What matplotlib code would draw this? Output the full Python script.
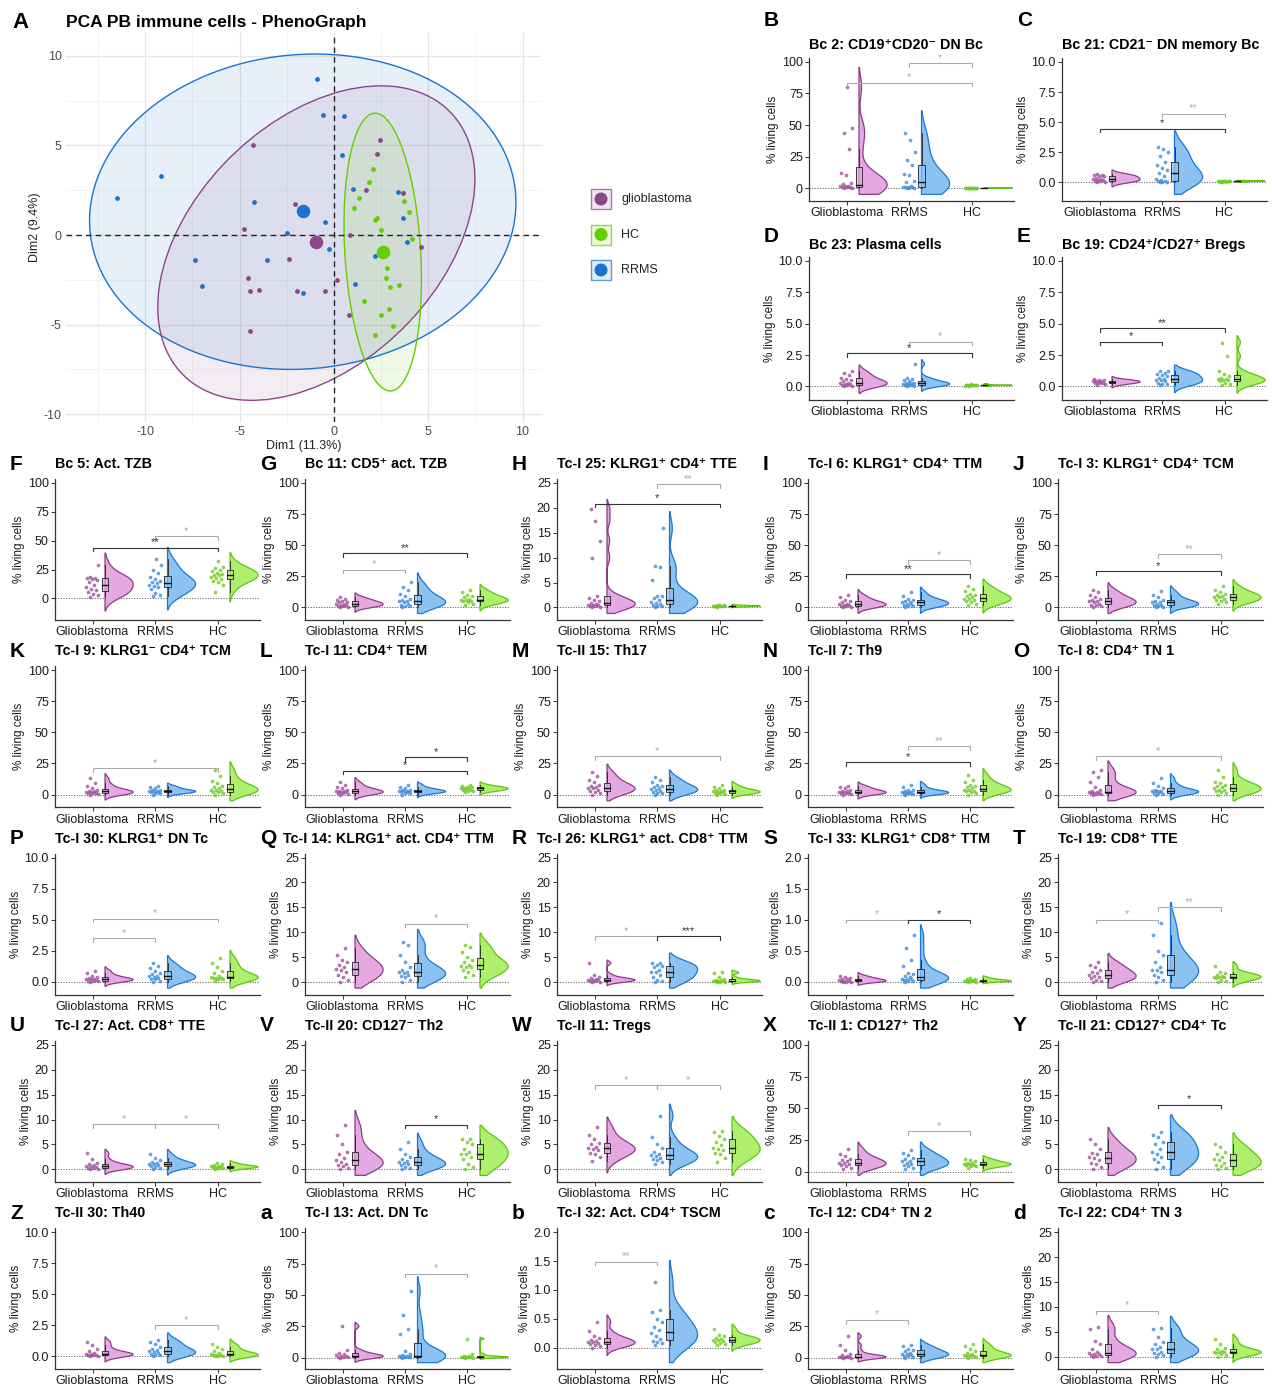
import numpy as np
import matplotlib
matplotlib.use("Agg")
import matplotlib.pyplot as plt
from matplotlib.patches import Ellipse, Rectangle, Circle

plt.rcParams['font.family'] = ['Liberation Sans', 'DejaVu Sans']
plt.rcParams['axes.unicode_minus'] = False

# ---------------- DATA ----------------
groups = ["Glioblastoma", "RRMS", "HC"]
legend_labels = ["glioblastoma", "HC", "RRMS"]

# PCA scores
gbm_pc1 = [-4.31, 2.44, 2.31, 1.68, 3.67, -2.04, -4.77, 0.85, 4.64, -2.38, -4.56, -4.47, -3.95, -1.95, -0.45, 0.19, 0.81, -4.47]
gbm_pc2 = [5.04, 5.30, 4.54, 2.53, 2.34, 1.73, 0.32, 0.0, -0.67, -1.34, -2.40, -3.12, -3.07, -3.10, -3.12, -2.53, -4.48, -5.37]
rrms_pc1 = [-0.91, -0.57, 0.53, 0.45, -9.16, -11.47, -4.24, 1.02, 3.39, -0.49, 3.67, -2.50, -0.26, 3.86, -7.34, -3.52, 2.19, -7.0, 1.12, -1.65]
rrms_pc2 = [8.68, 6.67, 6.64, 4.46, 3.31, 2.04, 1.82, 2.58, 2.42, 0.72, 0.95, 0.09, -0.76, -0.37, -1.41, -1.41, -1.15, -2.86, -2.75, -3.25]
hc_pc1 = [2.10, 1.87, 1.31, 3.73, 3.97, 1.08, 2.16, 2.31, 2.52, 4.12, 2.82, 2.76, 2.97, 3.44, 1.59, 2.91, 2.52, 3.14, 2.18]
hc_pc2 = [3.68, 2.94, 2.08, 1.88, 1.26, 1.51, 0.86, 0.93, 0.30, -0.22, -1.84, -2.38, -2.92, -2.79, -3.70, -4.11, -4.46, -5.06, -5.56]
# centroids (gbm, rrms, hc)
cent_pc1 = [-0.93, -1.65, 2.59]
cent_pc2 = [-0.41, 1.32, -0.95]
# confidence ellipses: center x, center y, semi-major, semi-minor, angle (deg)
ell_gbm = [-0.93, -0.45, 10.2, 6.6, 48.0]
ell_rrms = [-1.65, 1.30, 11.33, 8.76, 6.4]
ell_hc = [2.59, -0.95, 7.76, 2.01, 93.2]

# ---- small panels: titles, y scale, violin floor, values, significance ----
B_title = "Bc 2: CD19\u207aCD20\u207b DN Bc"; B_ytop = 100; B_vlo = -5
B_gbm = [0.2, 0.3, 0.5, 0.8, 1, 1.5, 2, 2, 3, 4, 10, 12, 31, 44, 48, 80]
B_rrms = [0, 0, 0.2, 0.5, 0.5, 1, 1, 2, 5, 6, 10, 11, 18, 22, 29, 38, 44]
B_hc = [0.1, 0.1, 0.2, 0.1, 0.3, 0.2, 0.1, 0.2, 0.1, 0.3, 0.2, 0.1, 0.1, 0.2]
B_sig = [(1, 2, 99, "*", "g"), (0, 2, 83.5, "*", "g")]

C_title = "Bc 21: CD21\u207b DN memory Bc"; C_ytop = 10; C_vlo = -1
C_gbm = [0, 0, 0.1, 0.1, 0.2, 0.2, 0.3, 0.3, 0.4, 0.5, 0.5, 0.6, 0.6, 0.7]
C_rrms = [0, 0, 0, 0.1, 0.1, 0.2, 0.3, 0.5, 0.8, 1, 1.2, 1.4, 1.7, 2.2, 2.5, 2.8, 2.9]
C_hc = [0.05, 0.1, 0.1, 0.05, 0.1, 0.15, 0.1, 0.05, 0.1, 0.1, 0.15, 0.1]
C_sig = [(1, 2, 5.7, "**", "g"), (0, 2, 4.47, "*", "k")]

D_title = "Bc 23: Plasma cells"; D_ytop = 10; D_vlo = -0.55
D_gbm = [0, 0.05, 0.1, 0.1, 0.2, 0.2, 0.3, 0.3, 0.4, 0.5, 0.6, 0.7, 0.9, 1.1, 1.2]
D_rrms = [0, 0.05, 0.1, 0.1, 0.15, 0.2, 0.2, 0.25, 0.3, 0.3, 0.4, 0.5, 0.6, 0.7, 1.8]
D_hc = [0.05, 0.1, 0.1, 0.1, 0.15, 0.1, 0.05, 0.1, 0.15, 0.1, 0.2, 0.1]
D_sig = [(1, 2, 3.56, "*", "g"), (0, 2, 2.63, "*", "k")]

E_title = "Bc 19: CD24\u207a/CD27\u207a Bregs"; E_ytop = 10; E_vlo = -0.55
E_gbm = [0.1, 0.2, 0.25, 0.3, 0.3, 0.35, 0.4, 0.4, 0.45, 0.5, 0.5, 0.6]
E_rrms = [0.1, 0.2, 0.2, 0.3, 0.4, 0.5, 0.5, 0.6, 0.7, 0.8, 0.9, 1.0, 1.1, 1.2, 1.2]
E_hc = [0.1, 0.2, 0.3, 0.4, 0.5, 0.5, 0.6, 0.6, 0.7, 0.8, 1.0, 1.2, 2.4, 3.5]
E_sig = [(0, 1, 3.56, "*", "k"), (0, 2, 4.65, "**", "k")]

F_title = "Bc 5: Act. TZB"; F_ytop = 100; F_vlo = -13
F_gbm = [1, 3, 4, 6, 7, 8, 10, 12, 14, 16, 17, 18, 18, 19, 29]
F_rrms = [2, 3, 5, 8, 10, 11, 12, 13, 14, 15, 17, 19, 22, 25, 29, 34]
F_hc = [6, 12, 14, 15, 17, 18, 19, 20, 20, 21, 22, 24, 25, 26, 27, 32]
F_sig = [(1, 2, 54, "*", "g"), (0, 2, 44, "**", "k")]

G_title = "Bc 11: CD5\u207a act. TZB"; G_ytop = 100; G_vlo = -5
G_gbm = [0, 0.5, 1, 1, 2, 2, 3, 3, 4, 4, 5, 6, 7, 8]
G_rrms = [0, 1, 1, 2, 3, 4, 5, 5, 6, 7, 9, 11, 14, 16, 20]
G_hc = [2, 3, 4, 5, 5, 6, 6, 7, 8, 9, 10, 12, 14]
G_sig = [(0, 1, 30, "*", "g"), (0, 2, 43.5, "**", "k")]

H_title = "Tc-I 25: KLRG1\u207a CD4\u207a TTE"; H_ytop = 25; H_vlo = -1.2
H_gbm = [0, 0.1, 0.2, 0.3, 0.4, 0.5, 0.6, 0.8, 1, 1.3, 1.6, 2, 2.4, 10, 13.4, 17.4, 19.7]
H_rrms = [0, 0.2, 0.3, 0.5, 0.8, 1, 1.2, 1.5, 2, 2.3, 2.4, 5.5, 8.2, 8.4, 15.9]
H_hc = [0.1, 0.2, 0.2, 0.3, 0.3, 0.4, 0.3, 0.2, 0.3, 0.4, 0.5, 0.3]
H_sig = [(1, 2, 24.7, "**", "g"), (0, 2, 20.8, "*", "k")]

I_title = "Tc-I 6: KLRG1\u207a CD4\u207a TTM"; I_ytop = 100; I_vlo = -5
I_gbm = [0, 0.5, 1, 1, 2, 2, 3, 3, 4, 5, 6, 8, 10]
I_rrms = [0, 1, 1, 2, 3, 3, 4, 4, 5, 6, 7, 9, 12]
I_hc = [2, 3, 4, 5, 6, 7, 7, 8, 9, 10, 11, 13, 15, 17]
I_sig = [(1, 2, 38, "*", "g"), (0, 2, 26.6, "**", "k")]

J_title = "Tc-I 3: KLRG1\u207a CD4\u207a TCM"; J_ytop = 100; J_vlo = -5
J_gbm = [0, 1, 2, 2, 3, 4, 5, 5, 6, 7, 8, 10, 12, 14]
J_rrms = [0, 0.5, 1, 2, 2, 3, 4, 4, 5, 6, 8, 10, 13]
J_hc = [3, 4, 5, 6, 7, 8, 8, 9, 10, 11, 12, 14, 17]
J_sig = [(1, 2, 42.7, "**", "g"), (0, 2, 29, "*", "k")]

K_title = "Tc-I 9: KLRG1\u207b CD4\u207a TCM"; K_ytop = 100; K_vlo = -5
K_gbm = [0, 0.5, 1, 1, 1.5, 2, 2, 3, 3, 4, 5, 7, 9, 13]
K_rrms = [0, 1, 1.5, 2, 2, 2.5, 3, 3, 3.5, 4, 5, 6, 7]
K_hc = [0, 1, 2, 2, 3, 4, 4, 5, 6, 7, 9, 11, 15, 20]
K_sig = [(0, 2, 21, "*", "g")]

L_title = "Tc-I 11: CD4\u207a TEM"; L_ytop = 100; L_vlo = -5
L_gbm = [0, 0.5, 1, 1, 2, 2, 2.5, 3, 3, 4, 5, 6, 8, 10]
L_rrms = [0, 1, 1.5, 2, 2, 2.5, 3, 3, 4, 4, 5, 6, 8]
L_hc = [2, 3, 3, 4, 4, 4.5, 5, 5, 5.5, 6, 6, 7, 8]
L_sig = [(1, 2, 30, "*", "k"), (0, 2, 19, "*", "k")]

M_title = "Tc-II 15: Th17"; M_ytop = 100; M_vlo = -5
M_gbm = [0, 1, 2, 3, 4, 5, 5, 6, 7, 8, 10, 12, 15, 18]
M_rrms = [0, 1, 1.5, 2, 3, 4, 4.5, 5, 6, 7, 8, 10, 12, 14]
M_hc = [0, 0.5, 1, 1.5, 2, 2, 2.5, 3, 3.5, 4, 5, 6, 8]
M_sig = [(0, 2, 31, "*", "g")]

N_title = "Tc-II 7: Th9"; N_ytop = 100; N_vlo = -5
N_gbm = [0, 0.5, 1, 1, 1.5, 2, 2, 2.5, 3, 4, 5, 6, 7]
N_rrms = [0, 0.5, 1, 1, 1.5, 1.5, 2, 2, 3, 3.5, 4, 6, 8]
N_hc = [0, 1, 2, 3, 3, 4, 4, 5, 6, 7, 8, 10, 12, 16]
N_sig = [(1, 2, 39, "**", "g"), (0, 2, 26, "*", "k")]

O_title = "Tc-I 8: CD4\u207a TN 1"; O_ytop = 100; O_vlo = -5
O_gbm = [0, 0.3, 0.5, 1, 1, 1.5, 2, 2, 3, 4, 6, 10, 14, 18, 20]
O_rrms = [0, 0.5, 1, 1.5, 2, 2.5, 3, 3, 4, 5, 7, 9, 13]
O_hc = [0, 1, 2, 3, 4, 4, 5, 6, 7, 8, 9, 10, 14, 20]
O_sig = [(0, 2, 31, "*", "g")]

P_title = "Tc-I 30: KLRG1\u207a DN Tc"; P_ytop = 10; P_vlo = -0.5
P_gbm = [0, 0.05, 0.1, 0.1, 0.15, 0.2, 0.2, 0.25, 0.3, 0.4, 0.5, 0.7, 0.9]
P_rrms = [0, 0.1, 0.2, 0.25, 0.3, 0.4, 0.45, 0.5, 0.6, 0.7, 0.9, 1.1, 1.3, 1.5]
P_hc = [0.1, 0.2, 0.2, 0.3, 0.3, 0.35, 0.4, 0.5, 0.7, 0.9, 1.2, 1.5, 1.9]
P_sig = [(0, 1, 3.5, "*", "g"), (0, 2, 5.07, "*", "g")]

Q_title = "Tc-I 14: KLRG1\u207a act. CD4\u207a TTM"; Q_ytop = 25; Q_vlo = -1.2
Q_gbm = [0, 0.5, 1, 1.5, 2, 2.5, 2.6, 3, 3.5, 4, 4.5, 5.5, 6.8]
Q_rrms = [0, 0.5, 1, 1.2, 1.5, 1.8, 2, 2, 2.5, 3, 4, 5.5, 7.5, 8]
Q_hc = [1, 1.5, 2, 2.5, 3, 3, 3.2, 3.5, 4, 4.5, 5, 6, 7, 7.5]
Q_sig = [(1, 2, 11.7, "*", "g")]

R_title = "Tc-I 26: KLRG1\u207a act. CD8\u207a TTM"; R_ytop = 25; R_vlo = -1.2
R_gbm = [0, 0.1, 0.2, 0.3, 0.4, 0.5, 0.5, 0.6, 0.8, 1, 1.5, 3.8]
R_rrms = [0, 0.3, 0.5, 1, 1.5, 2, 2, 2.5, 3, 3.2, 3.5, 3.8, 3.9]
R_hc = [0, 0.1, 0.1, 0.2, 0.2, 0.3, 0.3, 0.4, 0.5, 0.6, 1, 1.8, 2]
R_sig = [(0, 1, 9.2, "*", "g"), (1, 2, 9.2, "***", "k")]

S_title = "Tc-I 33: KLRG1\u207a CD8\u207a TTM"; S_ytop = 2.0; S_vlo = -0.1
S_gbm = [0, 0, 0.005, 0.01, 0.01, 0.02, 0.03, 0.04, 0.05, 0.06, 0.08, 0.1]
S_rrms = [0, 0.01, 0.02, 0.03, 0.04, 0.05, 0.05, 0.08, 0.1, 0.12, 0.15, 0.25, 0.35, 0.55, 0.75]
S_hc = [0, 0.005, 0.01, 0.01, 0.015, 0.02, 0.02, 0.03, 0.04, 0.05, 0.07]
S_sig = [(0, 1, 1.0, "*", "g"), (1, 2, 1.0, "*", "k")]

T_title = "Tc-I 19: CD8\u207a TTE"; T_ytop = 25; T_vlo = -1.2
T_gbm = [0, 0.3, 0.5, 0.8, 1, 1.2, 1.5, 1.8, 2, 2.5, 3, 3.5, 4]
T_rrms = [0, 0.5, 1, 1.5, 2, 2.5, 2.5, 3, 4, 5.5, 6.3, 9.5, 11.8]
T_hc = [0, 0.3, 0.5, 0.8, 1, 1, 1.1, 1.3, 1.5, 1.8, 2, 3.2]
T_sig = [(0, 1, 12.5, "*", "g"), (1, 2, 15, "**", "g")]

U_title = "Tc-I 27: Act. CD8\u207a TTE"; U_ytop = 25; U_vlo = -1.2
U_gbm = [0, 0.1, 0.2, 0.3, 0.5, 0.6, 0.7, 0.8, 1, 1.3, 2, 3.2]
U_rrms = [0, 0.3, 0.5, 0.7, 0.8, 1, 1, 1.2, 1.5, 1.8, 2.2, 3]
U_hc = [0, 0.2, 0.3, 0.4, 0.5, 0.5, 0.6, 0.7, 0.8, 1, 1.3]
U_sig = [(0, 1, 9.1, "*", "g"), (1, 2, 9.1, "*", "g")]

V_title = "Tc-II 20: CD127\u207b Th2"; V_ytop = 25; V_vlo = -1.2
V_gbm = [0, 0.3, 0.6, 0.8, 1, 1.5, 1.8, 2.2, 3, 3.5, 5, 7, 9]
V_rrms = [0, 0.3, 0.5, 0.8, 1, 1.2, 1.4, 1.6, 2, 2.5, 3, 4, 5.5]
V_hc = [0, 0.5, 1, 2, 2.5, 3, 3, 3.5, 4, 5, 5.5, 6, 6]
V_sig = [(1, 2, 9, "*", "k")]

W_title = "Tc-II 11: Tregs"; W_ytop = 25; W_vlo = -1.2
W_gbm = [1.6, 2.5, 3, 3.3, 3.8, 4, 4.2, 4.5, 5, 5.2, 6, 7, 8.5]
W_rrms = [1, 1.5, 1.8, 2, 2.3, 2.6, 2.8, 3, 3.5, 4.2, 5, 6.5, 10.8]
W_hc = [1.5, 2.2, 3, 3.3, 3.8, 4, 4.2, 4.8, 5.5, 6, 6.8, 7.5, 7.8]
W_sig = [(0, 1, 16.9, "*", "g"), (1, 2, 16.9, "*", "g")]

X_title = "Tc-II 1: CD127\u207a Th2"; X_ytop = 100; X_vlo = -3
X_gbm = [2, 3, 4, 5, 6, 6.5, 7, 8, 9, 10, 12, 14, 18]
X_rrms = [2, 3, 4, 5, 6, 7, 8, 8.5, 10, 11, 13, 15, 17]
X_hc = [3, 4, 4.5, 5, 5.5, 6, 6, 6.5, 7, 8, 9, 10]
X_sig = [(1, 2, 32, "*", "g")]

Y_title = "Tc-II 21: CD127\u207a CD4\u207a Tc"; Y_ytop = 25; Y_vlo = -1.2
Y_gbm = [0, 0.5, 1, 1.3, 1.8, 2.2, 2.5, 3, 3.3, 4, 5, 6]
Y_rrms = [0, 0.5, 1.5, 2, 2.5, 3, 3.5, 4, 5, 5.5, 6.5, 7, 7.5]
Y_hc = [0, 0.3, 0.6, 0.8, 1.2, 1.8, 2, 2.5, 3, 3.5, 4.5, 5]
Y_sig = [(1, 2, 13, "*", "k")]

Z_title = "Tc-II 30: Th40"; Z_ytop = 10; Z_vlo = -0.5
Z_gbm = [0, 0.05, 0.1, 0.1, 0.15, 0.2, 0.2, 0.3, 0.4, 0.6, 0.9, 1.2]
Z_rrms = [0, 0.1, 0.15, 0.2, 0.3, 0.35, 0.4, 0.5, 0.6, 0.8, 1, 1.2, 1.3]
Z_hc = [0, 0.02, 0.05, 0.1, 0.1, 0.15, 0.2, 0.3, 0.4, 0.6, 0.8, 1.0]
Z_sig = [(1, 2, 2.5, "*", "g")]

a_title = "Tc-I 13: Act. DN Tc"; a_ytop = 100; a_vlo = -4
a_gbm = [0, 0.2, 0.5, 0.8, 1, 1.5, 2, 3, 4, 6, 25]
a_rrms = [0, 0.2, 0.3, 0.5, 0.8, 1, 1.2, 1.5, 2, 3, 5, 19, 23, 34, 53]
a_hc = [0, 0.1, 0.2, 0.3, 0.5, 0.5, 0.8, 1, 1.5, 3, 15]
a_sig = [(1, 2, 67, "*", "g")]

b_title = "Tc-I 32: Act. CD4\u207a TSCM"; b_ytop = 2.0; b_vlo = -0.26
b_gbm = [0, 0.03, 0.05, 0.06, 0.08, 0.09, 0.1, 0.12, 0.14, 0.17, 0.2, 0.28, 0.45]
b_rrms = [0.05, 0.08, 0.1, 0.12, 0.15, 0.2, 0.25, 0.3, 0.35, 0.45, 0.5, 0.62, 0.65, 1.14]
b_hc = [0.04, 0.06, 0.08, 0.1, 0.12, 0.13, 0.14, 0.15, 0.17, 0.2, 0.22, 0.32]
b_sig = [(0, 1, 1.49, "**", "g")]

c_title = "Tc-I 12: CD4\u207a TN 2"; c_ytop = 100; c_vlo = -4
c_gbm = [0, 0, 0.2, 0.3, 0.5, 0.5, 0.8, 1, 2, 3, 6, 10, 17]
c_rrms = [0, 0.5, 1, 1.5, 2, 3, 3, 4, 5, 6, 7, 9, 10]
c_hc = [0, 0.5, 1, 1, 1.5, 2, 2, 3, 4, 5, 7, 9, 11]
c_sig = [(0, 1, 30, "*", "g")]

d_title = "Tc-I 22: CD4\u207a TN 3"; d_ytop = 25; d_vlo = -1.2
d_gbm = [0, 0.1, 0.2, 0.3, 0.5, 0.5, 0.8, 1, 1.5, 2.5, 3.2, 5.5, 6]
d_rrms = [0, 0.3, 0.5, 0.8, 1, 1.5, 1.5, 2, 2.5, 3, 4, 5.5, 5.8]
d_hc = [0, 0.3, 0.5, 0.7, 0.9, 1, 1, 1.2, 1.5, 1.8, 2.5, 3.5]
d_sig = [(0, 1, 9.2, "*", "g")]

# ---------------- STYLE ----------------
PT_COL = ['#A2509E', '#3F8EDC', '#6FCB22']
FILL = ['#E4A9E0', '#8CC2F2', '#AEEF6E']
EDGE = ['#8C3A89', '#1C76D4', '#5EC410']
PCA_COL = ['#8B4789', '#1874CD', '#66CD00']
SIG_COL = {'g': '#ABABAB', 'k': '#333333'}

W, H = 1272, 1387
fig = plt.figure(figsize=(W / 100, H / 100), dpi=100)


def px_axes(left, top, width, height):
    return fig.add_axes([left / W, 1 - (top + height) / H, width / W, height / H])


def ftext(x, y, s, **kw):
    fig.text(x / W, 1 - y / H, s, **kw)


# ---------------- PANEL A: PCA ----------------
axA = px_axes(66, 33, 475, 389)
axA.set_xlim(-14.2, 10.98)
axA.set_ylim(-10.43, 11.27)
for s in axA.spines.values():
    s.set_visible(False)
for v in [-12.5, -7.5, -2.5, 2.5, 7.5]:
    axA.axvline(v, color='#F2F2F2', lw=0.6, zorder=0)
for v in [-7.5, -2.5, 2.5, 7.5]:
    axA.axhline(v, color='#F2F2F2', lw=0.6, zorder=0)
for v in [-10, -5, 0, 5, 10]:
    axA.axvline(v, color='#E6E6E6', lw=0.9, zorder=0)
    axA.axhline(v, color='#E6E6E6', lw=0.9, zorder=0)

for ell, col in [(ell_rrms, PCA_COL[1]), (ell_gbm, PCA_COL[0]), (ell_hc, PCA_COL[2])]:
    cx, cy, a, b, ang = ell
    axA.add_patch(Ellipse((cx, cy), 2 * a, 2 * b, angle=ang, facecolor=col, alpha=0.1,
                          edgecolor='none', zorder=1))
    axA.add_patch(Ellipse((cx, cy), 2 * a, 2 * b, angle=ang, facecolor='none',
                          edgecolor=col, lw=1.0, zorder=2))

axA.axhline(0, color='#222222', ls=(0, (4, 3)), lw=1.0, zorder=3)
axA.axvline(0, color='#222222', ls=(0, (4, 3)), lw=1.0, zorder=3)

axA.scatter(gbm_pc1, gbm_pc2, s=12, color=PCA_COL[0], zorder=4, linewidths=0)
axA.scatter(rrms_pc1, rrms_pc2, s=12, color=PCA_COL[1], zorder=4, linewidths=0)
axA.scatter(hc_pc1, hc_pc2, s=12, color=PCA_COL[2], zorder=4, linewidths=0)
for i in range(3):
    axA.scatter([cent_pc1[i]], [cent_pc2[i]], s=95, color=PCA_COL[i], zorder=5, linewidths=0)

axA.set_xticks([-10, -5, 0, 5, 10])
axA.set_yticks([-10, -5, 0, 5, 10])
axA.tick_params(length=0, labelsize=9, labelcolor='#4D4D4D', pad=3)
axA.set_xlabel('Dim1 (11.3%)', fontsize=9, color='#222222', labelpad=1)
axA.set_ylabel('Dim2 (9.4%)', fontsize=9, color='#222222', labelpad=2)

ftext(12, 22, 'A', fontsize=16, fontweight='bold', va='center', ha='left')
ftext(66, 22, 'PCA PB immune cells - PhenoGraph', fontsize=12.5, fontweight='bold',
      va='center', ha='left')

# legend
legax = px_axes(580, 180, 140, 110)
legax.set_xlim(0, 140)
legax.set_ylim(110, 0)
legax.axis('off')
leg_cols = [PCA_COL[0], PCA_COL[2], PCA_COL[1]]
for k, (lab, col) in enumerate(zip(legend_labels, leg_cols)):
    yc = 19 + 35.5 * k
    legax.add_patch(Rectangle((11, yc - 10), 20, 20, facecolor=col, alpha=0.12, edgecolor='none'))
    legax.add_patch(Rectangle((11, yc - 10), 20, 20, facecolor='none', edgecolor=col, lw=1.0, alpha=0.7))
    legax.add_patch(Circle((21, yc), 6.5, facecolor=col, edgecolor='none'))
    legax.text(41, yc, lab, fontsize=9, va='center', ha='left', color='#222222')


# ---------------- SMALL PANELS ----------------
def bw_nrd0(v):
    n = len(v)
    sd = np.std(v, ddof=1)
    q75, q25 = np.percentile(v, [75, 25])
    lo = min(sd, (q75 - q25) / 1.34)
    if lo <= 0:
        lo = sd if sd > 0 else 1.0
    return 0.9 * lo * n ** -0.2


def draw_group(ax, xc, vals, vlo, gi):
    v = np.asarray(vals, float)
    x0 = xc + 0.2
    bw0 = bw_nrd0(v)
    bw = 1.4 * bw0
    ymin = max(v.min() - 3 * bw0, vlo)
    ymax = v.max() + 2.6 * bw0
    ys = np.linspace(ymin, ymax, 400)
    d = np.exp(-0.5 * ((ys[:, None] - v[None, :]) / bw) ** 2).sum(1)
    d = d / d.max() * 0.45
    xs = np.concatenate([[x0], x0 + d, [x0]])
    yy = np.concatenate([[ys[0]], ys, [ys[-1]]])
    ax.fill(xs, yy, facecolor=FILL[gi], edgecolor=EDGE[gi], lw=0.9, zorder=2)
    # box
    q1, med, q3 = np.percentile(v, [25, 50, 75])
    iqr = q3 - q1
    lo_w = v[v >= q1 - 1.5 * iqr].min()
    hi_w = v[v <= q3 + 1.5 * iqr].max()
    bwid = 0.1
    ax.plot([x0, x0], [lo_w, q1], color='#222222', lw=0.6, zorder=3)
    ax.plot([x0, x0], [q3, hi_w], color='#222222', lw=0.6, zorder=3)
    ax.add_patch(Rectangle((x0 - bwid / 2, q1), bwid, q3 - q1, facecolor=FILL[gi], alpha=0.75,
                           edgecolor='none', zorder=3))
    ax.add_patch(Rectangle((x0 - bwid / 2, q1), bwid, q3 - q1, facecolor='none',
                           edgecolor='#222222', lw=0.6, zorder=3))
    ax.plot([x0 - bwid / 2, x0 + bwid / 2], [med, med], color='#111111', lw=1.0, zorder=4)
    # points
    n = len(v)
    offs = ((np.arange(n) * 0.6180339887 + 0.3) % 1.0 - 0.5) * 0.2
    ax.scatter(xc + offs, v, s=7, color=PT_COL[gi], alpha=0.8, linewidths=0, zorder=4)


def tick_labels(ytop):
    if ytop == 100:
        t = [0, 25, 50, 75, 100]
        return t, [str(x) for x in t]
    if ytop == 25:
        t = [0, 5, 10, 15, 20, 25]
        return t, [str(x) for x in t]
    if ytop == 10:
        t = [0, 2.5, 5, 7.5, 10]
        return t, ['%.1f' % x for x in t]
    t = [0, 0.5, 1.0, 1.5, 2.0]
    return t, ['%.1f' % x for x in t]


def small_panel(letter, title, left, top, height, ytop, vlo, gvals, sig,
                letter_y=None, title_y=None, title_x=None):
    ax = px_axes(left, top, 205, height)
    rng = ytop - vlo
    ylo = vlo - 0.05 * rng
    yhi = ytop + 0.03 * rng
    ax.set_xlim(0.4, 3.68)
    ax.set_ylim(ylo, yhi)
    ax.axhline(0, color='#666666', ls=(0, (1.2, 1.5)), lw=0.7, zorder=1)
    for gi, vals in enumerate(gvals):
        draw_group(ax, gi + 1, vals, vlo, gi)
    yr = yhi - ylo
    for (i, j, yb, lab, c) in sig:
        col = SIG_COL[c]
        tl = 0.025 * yr
        ax.plot([i + 1, i + 1, j + 1, j + 1], [yb - tl, yb, yb, yb - tl], color=col, lw=0.8,
                zorder=5, solid_joinstyle='miter')
        ax.text((i + j) / 2 + 1, yb + 0.003 * yr, lab, color=col, fontsize=8, ha='center',
                va='bottom', zorder=5)
    for s in ['top', 'right']:
        ax.spines[s].set_visible(False)
    for s in ['left', 'bottom']:
        ax.spines[s].set_color('#333333')
        ax.spines[s].set_linewidth(0.9)
    ax.set_xticks([1, 2, 3])
    ax.set_xticklabels(groups)
    t, tl_ = tick_labels(ytop)
    ax.set_yticks(t)
    ax.set_yticklabels(tl_)
    ax.tick_params(labelsize=9, length=3, width=0.7, color='#333333', labelcolor='#1A1A1A', pad=1.5)
    ax.set_ylabel('% living cells', fontsize=8.5, labelpad=2, color='#1A1A1A')
    ty = top - 15 if title_y is None else title_y
    ly = ty if letter_y is None else letter_y
    tx = left if title_x is None else title_x
    ftext(tx, ty, title, fontsize=10.3, fontweight='bold', ha='left', va='center')
    ftext(left - 45, ly, letter, fontsize=15, fontweight='bold', ha='left', va='center')
    return ax


top_panels = [
    ('B', B_title, B_ytop, B_vlo, [B_gbm, B_rrms, B_hc], B_sig),
    ('C', C_title, C_ytop, C_vlo, [C_gbm, C_rrms, C_hc], C_sig),
    ('D', D_title, D_ytop, D_vlo, [D_gbm, D_rrms, D_hc], D_sig),
    ('E', E_title, E_ytop, E_vlo, [E_gbm, E_rrms, E_hc], E_sig),
]
top_pos = [(809, 58, 45, 20), (1062, 58, 45, 20), (809, 257, 245, 237), (1062, 257, 245, 237)]
for (letter, title, ytop, vlo, gv, sig), (l, t, ty, ly) in zip(top_panels, top_pos):
    small_panel(letter, title, l, t, 143, ytop, vlo, gv, sig, letter_y=ly, title_y=ty)

grid_panels = [
    ('F', F_title, F_ytop, F_vlo, [F_gbm, F_rrms, F_hc], F_sig),
    ('G', G_title, G_ytop, G_vlo, [G_gbm, G_rrms, G_hc], G_sig),
    ('H', H_title, H_ytop, H_vlo, [H_gbm, H_rrms, H_hc], H_sig),
    ('I', I_title, I_ytop, I_vlo, [I_gbm, I_rrms, I_hc], I_sig),
    ('J', J_title, J_ytop, J_vlo, [J_gbm, J_rrms, J_hc], J_sig),
    ('K', K_title, K_ytop, K_vlo, [K_gbm, K_rrms, K_hc], K_sig),
    ('L', L_title, L_ytop, L_vlo, [L_gbm, L_rrms, L_hc], L_sig),
    ('M', M_title, M_ytop, M_vlo, [M_gbm, M_rrms, M_hc], M_sig),
    ('N', N_title, N_ytop, N_vlo, [N_gbm, N_rrms, N_hc], N_sig),
    ('O', O_title, O_ytop, O_vlo, [O_gbm, O_rrms, O_hc], O_sig),
    ('P', P_title, P_ytop, P_vlo, [P_gbm, P_rrms, P_hc], P_sig),
    ('Q', Q_title, Q_ytop, Q_vlo, [Q_gbm, Q_rrms, Q_hc], Q_sig),
    ('R', R_title, R_ytop, R_vlo, [R_gbm, R_rrms, R_hc], R_sig),
    ('S', S_title, S_ytop, S_vlo, [S_gbm, S_rrms, S_hc], S_sig),
    ('T', T_title, T_ytop, T_vlo, [T_gbm, T_rrms, T_hc], T_sig),
    ('U', U_title, U_ytop, U_vlo, [U_gbm, U_rrms, U_hc], U_sig),
    ('V', V_title, V_ytop, V_vlo, [V_gbm, V_rrms, V_hc], V_sig),
    ('W', W_title, W_ytop, W_vlo, [W_gbm, W_rrms, W_hc], W_sig),
    ('X', X_title, X_ytop, X_vlo, [X_gbm, X_rrms, X_hc], X_sig),
    ('Y', Y_title, Y_ytop, Y_vlo, [Y_gbm, Y_rrms, Y_hc], Y_sig),
    ('Z', Z_title, Z_ytop, Z_vlo, [Z_gbm, Z_rrms, Z_hc], Z_sig),
    ('a', a_title, a_ytop, a_vlo, [a_gbm, a_rrms, a_hc], a_sig),
    ('b', b_title, b_ytop, b_vlo, [b_gbm, b_rrms, b_hc], b_sig),
    ('c', c_title, c_ytop, c_vlo, [c_gbm, c_rrms, c_hc], c_sig),
    ('d', d_title, d_ytop, d_vlo, [d_gbm, d_rrms, d_hc], d_sig),
]
col_left = [55, 305, 557, 808, 1058]
title_shift = {'Q': 283, 'R': 537}
for k, (letter, title, ytop, vlo, gv, sig) in enumerate(grid_panels):
    r, c = divmod(k, 5)
    top = 479 + 187.3 * r
    small_panel(letter, title, col_left[c], top, 141, ytop, vlo, gv, sig,
                title_x=title_shift.get(letter))

fig.savefig('out.png', dpi=100)
